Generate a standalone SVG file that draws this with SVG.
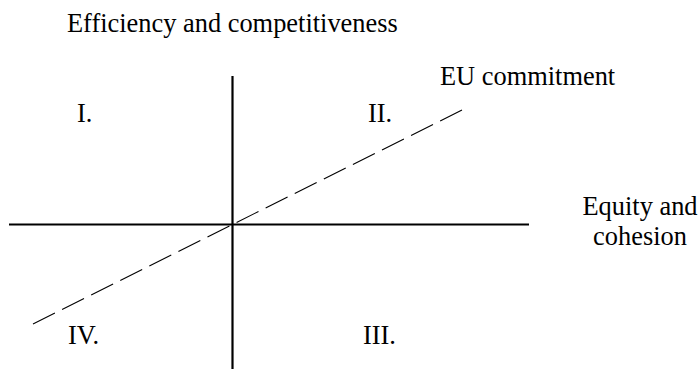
<svg xmlns="http://www.w3.org/2000/svg" width="700" height="369" viewBox="0 0 700 369">
<style>
.lbl{font-family:'Liberation Serif','Times New Roman',Times,serif;font-size:26.4px;fill:#000}
.axis{stroke:#000;stroke-width:2.2;fill:none}
.dash{stroke:#000;stroke-width:1.1;fill:none;stroke-dasharray:24.5 8}
</style>
<rect width="700" height="369" fill="#fff"/>
<g id="connectors">
<line class="axis" x1="9" y1="224.5" x2="529" y2="224.5"/>
<line class="axis" x1="232.5" y1="76" x2="232.5" y2="369"/>
<line class="dash" x1="33" y1="324" x2="462" y2="110"/>
</g>
<g id="y-label"><text class="lbl" x="67" y="32">Efficiency and competitiveness</text></g>
<g id="eu-label"><text class="lbl" x="440" y="85">EU commitment</text></g>
<g id="x-label"><text class="lbl" x="640" y="215" text-anchor="middle">Equity and</text><text class="lbl" x="640" y="245" text-anchor="middle">cohesion</text></g>
<g id="q1"><text class="lbl" x="77" y="122">I.</text></g>
<g id="q2"><text class="lbl" x="368" y="122">II.</text></g>
<g id="q4"><text class="lbl" x="68" y="344">IV.</text></g>
<g id="q3"><text class="lbl" x="363" y="344">III.</text></g>
</svg>
